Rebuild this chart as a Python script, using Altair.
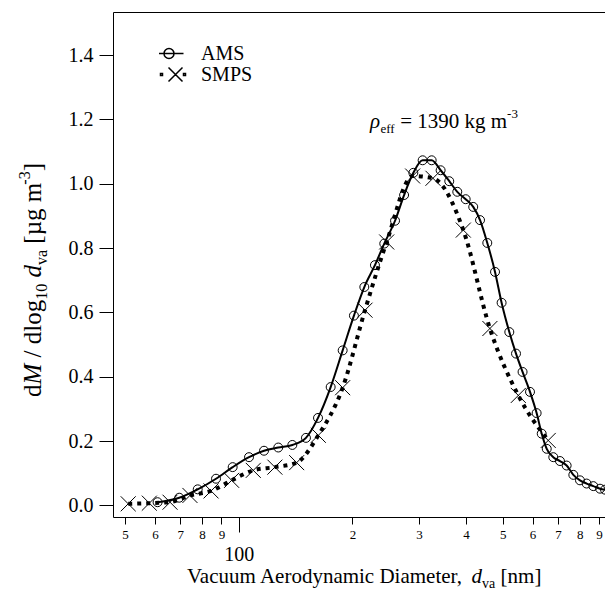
import altair as alt
import pandas as pd

# ---------------- data ----------------
ams_d = [61.0, 69.6, 77.9, 87.1, 96.4, 106.5, 116.7, 127.3, 138.7, 150.7, 162.2, 175.2,
         188.5, 201.9, 215.1, 229.5, 242.9, 259.4, 274.1, 290.0, 306.9, 324.3, 342.5,
         361.0, 379.1, 399.0, 417.8, 435.5, 455.2, 477.2, 496.7, 520.6, 542.3, 564.4,
         590.6, 614.9, 634.3, 654.0, 680.7, 709.0, 738.4, 769.1, 801.0, 834.0, 868.7,
         905.0, 933.0]
ams_y = [0.010, 0.024, 0.050, 0.083, 0.119, 0.150, 0.170, 0.180, 0.188, 0.210, 0.272, 0.368,
         0.482, 0.590, 0.679, 0.747, 0.814, 0.885, 0.965, 1.034, 1.073, 1.073, 1.042,
         1.008, 0.975, 0.952, 0.928, 0.887, 0.816, 0.726, 0.630, 0.539, 0.472, 0.415,
         0.353, 0.287, 0.223, 0.176, 0.150, 0.138, 0.124, 0.095, 0.078, 0.068, 0.060,
         0.052, 0.049]

smps_d = [51.0, 58.0, 65.8, 74.3, 84.5, 95.8, 109.3, 124.7, 142.4, 162.5, 188.5, 216.0,
          246.5, 288.8, 326.9, 393.3, 462.5, 550.0, 660.0]
smps_y = [0.005, 0.007, 0.010, 0.031, 0.045, 0.078, 0.109, 0.119, 0.133, 0.218, 0.366, 0.607,
          0.819, 1.024, 1.017, 0.856, 0.550, 0.342, 0.202]

series_names = ["AMS", "SMPS"]
y_ticks = [0.0, 0.2, 0.4, 0.6, 0.8, 1.0, 1.2, 1.4]
x_ticks = [50, 60, 70, 80, 90, 100, 200, 300, 400, 500, 600, 700, 800, 900]

# rich-text pieces: (text, kind) with kind n=normal, i=italic, s=subscript, p=superscript
x_title = [("Vacuum Aerodynamic Diameter, ", "n"), ("d", "i"), ("va", "s"), (" [nm]", "n")]
y_title = [("d", "n"), ("M", "i"), (" / dlog", "n"), ("10", "s"), (" ", "n"),
           ("d", "i"), ("va", "s"), (" [µg m", "n"), ("-3", "p"), ("]", "n")]
note = [("ρ", "i"), ("eff", "s"), (" = 1390 kg m", "n"), ("-3", "p")]

# ---------------- styling / layout ----------------
FONT = "Liberation Serif"
W, H = 492, 505
X_DOMAIN = [46.48, 932.9]
Y_DOMAIN = [-0.036, 1.534]

xscale = alt.Scale(type="log", domain=X_DOMAIN, nice=False)
yscale = alt.Scale(domain=Y_DOMAIN, nice=False, zero=False)

is100 = "datum.value == 100"
x_axis = alt.Axis(
    values=x_ticks,
    labelExpr="datum.value == 100 ? '100' : substring(toString(datum.value), 0, 1)",
    tickSize={"condition": {"test": is100, "value": 15}, "value": 7},
    labelFontSize={"condition": {"test": is100, "value": 20}, "value": 13},
    labelPadding={"condition": {"test": is100, "value": 12}, "value": 4},
    labelFont=FONT, labelColor="black", labelFlush=False, labelOverlap=False,
    tickColor="black", tickWidth=1, domainColor="black", domainWidth=1,
    grid=False, title=None,
)
top_axis = alt.Axis(orient="top", labels=False, ticks=False, domain=True,
                    domainColor="black", domainWidth=1, grid=False, title=None)
y_axis = alt.Axis(
    values=y_ticks, format=".1f", tickSize=14, tickColor="black", tickWidth=1,
    domainColor="black", domainWidth=1, labelFont=FONT, labelFontSize=20,
    labelColor="black", labelPadding=6, grid=False, title=None,
)

ams = pd.DataFrame({"d": ams_d, "y": ams_y, "series": "AMS"})
smps = pd.DataFrame({"d": smps_d, "y": smps_y, "series": "SMPS"})

X_PATH = "M-1,-1L1,1M-1,1L1,-1"
LEG_AMS = "M-2.9,0L2.9,0M1,0A1,1,0,1,1,-1,0A1,1,0,1,1,1,0"
LEG_SMPS = ("M-3.1,-0.2h0.4v0.4h-0.4Z M-1.7,-0.2h0.4v0.4h-0.4Z M2.9,-0.2h0.4v0.4h-0.4Z "
            "M-0.1,-1.4L2.7,1.4M-0.1,1.4L2.7,-1.4")


def xy(axis):
    return dict(x=alt.X("d:Q", scale=xscale, axis=axis),
                y=alt.Y("y:Q", scale=yscale, axis=y_axis))


ams_line = alt.Chart(ams).mark_line(color="black", strokeWidth=2, interpolate="monotone").encode(**xy(x_axis))
smps_line = alt.Chart(smps).mark_line(color="black", strokeWidth=4, strokeDash=[4, 5], strokeCap="butt",
                                      interpolate="monotone").encode(**xy(None))
ams_pts = alt.Chart(ams).mark_point(shape="circle", filled=False, color="black", size=80,
                                    strokeWidth=1, opacity=1).encode(**xy(None))
smps_pts = alt.Chart(smps).mark_point(shape=X_PATH, filled=False, color="black", size=225,
                                      strokeWidth=1, opacity=1).encode(**xy(None))

leg_df = pd.DataFrame({"d": [ams_d[0], smps_d[0]], "y": [ams_y[0], smps_y[0]], "series": series_names})
legend_layer = alt.Chart(leg_df).mark_point(filled=False, color="black", size=100, strokeWidth=1.5,
                                            opacity=0).encode(
    **xy(top_axis),
    shape=alt.Shape("series:N", scale=alt.Scale(domain=series_names, range=[LEG_AMS, LEG_SMPS]),
                    legend=alt.Legend(orient="none", legendX=46, legendY=33, title=None,
                                      labelFont=FONT, labelFontSize=20, labelColor="black",
                                      labelOffset=22, rowPadding=0, clipHeight=17, padding=0,
                                      symbolSize=100, symbolOpacity=1, symbolStrokeWidth=1.5,
                                      symbolStrokeColor="black", symbolFillColor="transparent")),
)

# ---------------- rich text helpers ----------------
REG = {" ": 250, "[": 333, "]": 333, ",": 250, "-": 333, "=": 564, "/": 278, "µ": 500,
       "A": 722, "D": 722, "M": 889, "V": 722, "a": 444, "c": 444, "d": 500, "e": 444,
       "f": 333, "g": 500, "i": 278, "k": 500, "l": 278, "m": 778, "n": 500, "o": 500,
       "r": 333, "t": 278, "u": 500, "v": 500, "y": 500, "ρ": 500}
ITA = {"d": 500, "M": 833, "ρ": 500}
one = pd.DataFrame({"a": [0]})


def width(text, size, italic):
    tab = ITA if italic else REG
    return sum(tab.get(ch, REG.get(ch, 500)) for ch in text) * size / 1000.0


def rich(pieces, x0, y0, size, small, sub_shift, sup_shift, angle=0):
    layers = []
    pos = 0.0
    for text, kind in pieces:
        italic = kind == "i"
        fs = small if kind in ("s", "p") else size
        shift = sub_shift if kind == "s" else (-sup_shift if kind == "p" else 0)
        body = text.strip()
        lead = width(text[: len(text) - len(text.lstrip())], fs, italic)
        if body:
            p = pos + lead
            if angle == 0:
                x, y = x0 + p, y0 + shift
            else:
                x, y = x0 + shift, y0 - p
            layers.append(alt.Chart(one).mark_text(
                text=body, font=FONT, fontSize=fs, fontStyle="italic" if italic else "normal",
                align="left", baseline="alphabetic", angle=angle, color="black",
            ).encode(x=alt.value(x), y=alt.value(y)))
        pos += width(text, fs, italic)
    return layers


texts = []
texts += rich(x_title, 74, 571, 21, 14, 5, 9)
texts += rich(y_title, -72, 385, 25, 16, 6, 11, angle=270)
texts += rich(note, 257, 116, 21, 13, 5, 10)

chart = alt.layer(smps_line, ams_line, ams_pts, smps_pts, legend_layer, *texts).resolve_axis(
    x="independent"
).properties(
    width=W, height=H,
    autosize=alt.AutoSizeParams(type="none"),
    padding={"left": 105, "top": 4, "right": 0, "bottom": 76},
).configure_view(stroke="transparent")

chart.save("out.html", embed_options={"renderer": "svg", "actions": False})
